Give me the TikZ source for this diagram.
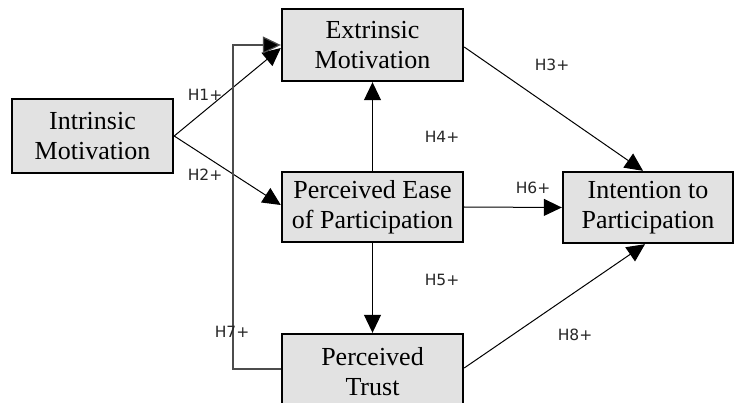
\documentclass[tikz,border=0pt]{standalone}
\usepackage{fontspec}
\setmainfont{Liberation Serif}
\newfontfamily\lblfont{DejaVu Sans}
\usetikzlibrary{arrows.meta}
\definecolor{boxgray}{HTML}{E2E2E2}
\begin{document}
\begin{tikzpicture}[x=1pt,y=-1pt,
  box/.style={draw=black, line width=2.4pt, fill=boxgray, inner sep=0pt, align=center,
    font=\fontsize{26}{30}\selectfont},
  arr/.style={line width=1pt, -{Triangle[length=18pt,width=17pt]}},
  lbl/.style={font=\lblfont\fontsize{15.5}{18}\selectfont, text=black!85, inner sep=0pt}]
\useasboundingbox (0,0) rectangle (735,403);
\node[box, minimum width=161pt, minimum height=74pt] (IM) at (92.5,136) {Intrinsic\\Motivation};
\node[box, minimum width=181pt, minimum height=72pt] (EM) at (372.5,45) {Extrinsic\\Motivation};
\node[box, minimum width=181pt, minimum height=70pt] (PEP) at (372.5,207) {Perceived Ease\\of Participation};
\node[box, minimum width=170pt, minimum height=71pt] (INT) at (648,207.5) {Intention to\\Participation};
\node[box, minimum width=181pt, minimum height=76pt] (PT) at (372.5,372) {Perceived\\Trust};
\coordinate (c7) at (233,45);
% connectors
\draw[arr] (IM.east) -- ([yshift=-3pt]EM.west);
\draw[arr] (IM.east) -- ([yshift=2pt]PEP.west);
\draw[arr] ([yshift=-2pt]EM.east) -- ([xshift=-5pt]INT.north);
\draw[arr] (PEP.north) -- (EM.south);
\draw[arr] (PEP.south) -- (PT.north);
\draw[arr] (PEP.east) -- (INT.west);
\draw[arr] ([yshift=4pt]PT.east) -- ([xshift=-3pt]INT.south);
\draw[line width=1.2pt, draw=black!70, -{Triangle[length=18pt,width=17pt,fill=black]}] ([yshift=3pt]PT.west) -| (c7) -- (EM.west);
% labels
\node[lbl] (l1) at (205,95) {H1+};
\node[lbl] (l2) at (205,175) {H2+};
\node[lbl] (l3) at (552,65) {H3+};
\node[lbl] (l4) at (442,137) {H4+};
\node[lbl] (l5) at (442,280) {H5+};
\node[lbl] (l6) at (533,188) {H6+};
\node[lbl] (l7) at (232,332) {H7+};
\node[lbl] (l8) at (575,335) {H8+};
\end{tikzpicture}
\end{document}
